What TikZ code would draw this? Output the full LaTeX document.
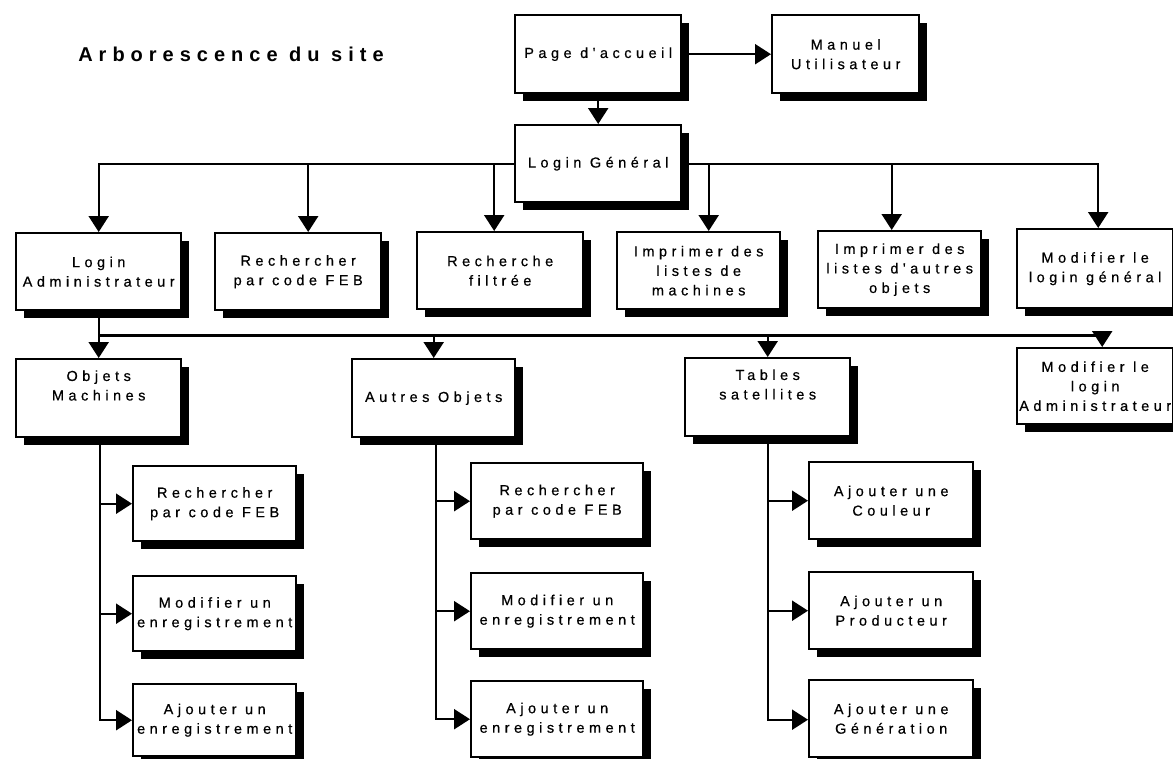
\documentclass[tikz,border=0pt]{standalone}
\usepackage{fontspec}
\setmainfont{Liberation Sans}
\newfontfamily\boxfont{Liberation Sans}[LetterSpace=31,Ligatures=TeXOff,FakeBold=0.5]
\newfontfamily\titlefont{Liberation Sans}[LetterSpace=30]
\usetikzlibrary{arrows.meta,shadows,calc}
\tikzset{
  box/.style={draw=black, line width=2.4pt, fill=white, anchor=north west,
    align=center, inner sep=0pt,
    font=\boxfont\fontsize{14.5}{19.5}\selectfont,
    drop shadow={shadow xshift=7.5pt, shadow yshift=-7.5pt, fill=black, opacity=1}},
  conn/.style={line width=2.2pt, -{Triangle[width=20pt,length=16pt]}},
  wire/.style={line width=2.2pt}
}
\begin{document}
\begin{tikzpicture}[x=1pt,y=1pt]
\useasboundingbox (0,0) rectangle (1173,-758);
\clip (0,0) rectangle (1173,-758);
\fill[white] (0,0) rectangle (1173,-758);

\node (title) at (231,-54) {\titlefont\bfseries\fontsize{20}{24}\selectfont Arborescence du site};

% row 0
\node[box, minimum width=166pt, minimum height=78pt] (acc) at (514,-14) {Page d'accueil};
\node[box, minimum width=147pt, minimum height=78pt] (man) at (771,-14) {Manuel\\Utilisateur};
\node[box, minimum width=166pt, minimum height=77pt] (lg) at (514,-124) {Login Général};

% row 2
\node[box, minimum width=165pt, minimum height=77pt] (la) at (15,-232) {Login\\Administrateur};
\node[box, minimum width=166pt, minimum height=77pt] (rpc) at (214,-232) {Rechercher\\par code FEB};
\node[box, minimum width=166pt, minimum height=77pt] (rf) at (416,-231) {Recherche\\filtrée};
\node[box, minimum width=163pt, minimum height=77pt] (imm) at (616,-231) {Imprimer des\\listes de\\machines};
\node[box, minimum width=163pt, minimum height=77pt] (imo) at (817,-230) {Imprimer des\\listes d'autres\\objets};
\node[box, minimum width=156pt, minimum height=79pt] (mlg) at (1016,-228) {Modifier le\\login général};

% row 3
\node[box, minimum width=165pt, minimum height=78pt] (om) at (15,-358) {Objets\\Machines\\[6pt]};
\node[box, minimum width=163pt, minimum height=78pt] (ao) at (351,-358) {Autres Objets};
\node[box, minimum width=165pt, minimum height=78pt] (ts) at (684,-357) {Tables\\satellites\\[6pt]};
\node[box, minimum width=156pt, minimum height=76pt] (mla) at (1016,-347) {Modifier le\\login\\Administrateur};

% column 1
\node[box, minimum width=163pt, minimum height=75pt] (c1a) at (132,-465) {Rechercher\\par code FEB};
\node[box, minimum width=163pt, minimum height=75pt] (c1b) at (132,-575) {Modifier un\\enregistrement};
\node[box, minimum width=163pt, minimum height=72pt] (c1c) at (132,-683) {Ajouter un\\enregistrement};
% column 2
\node[box, minimum width=172pt, minimum height=76pt] (c2a) at (470,-462) {Rechercher\\par code FEB};
\node[box, minimum width=172pt, minimum height=76pt] (c2b) at (470,-572) {Modifier un\\enregistrement};
\node[box, minimum width=172pt, minimum height=76pt] (c2c) at (470,-680) {Ajouter un\\enregistrement};
% column 3
\node[box, minimum width=164pt, minimum height=77pt] (c3a) at (808,-461) {Ajouter une\\Couleur};
\node[box, minimum width=164pt, minimum height=77pt] (c3b) at (808,-571) {Ajouter un\\Producteur};
\node[box, minimum width=164pt, minimum height=77pt] (c3c) at (808,-679) {Ajouter une\\Génération};

% connectors top
\draw[conn] (acc.east) -- (man.west);
\draw[conn] (acc.south) -- (lg.north);

\draw[conn] (lg.west) -| (la.north);
\draw[conn] (lg.west) -| ([xshift=10pt]rpc.north);
\draw[conn] (lg.west) -| ([xshift=-6pt]rf.north);
\draw[conn] (lg.east) -| ([xshift=10pt]imm.north);
\draw[conn] (lg.east) -| ([xshift=-8pt]imo.north);
\draw[conn] (lg.east) -| ([xshift=3pt]mlg.north);

% bus 2
\coordinate (bus) at ($(la.south)+(0,-24)$);
\draw[conn] (la.south) -- (om.north);
\draw[conn] (bus) -| (ao.north);
\draw[conn] (bus) -| (ts.north);
\draw[conn] (bus) -| ([xshift=7pt]mla.north);

% sub columns
\draw[conn] ([xshift=1pt]om.south) |- (c1a.west);
\draw[conn] ([xshift=1pt]om.south) |- (c1b.west);
\draw[conn] ([xshift=1pt]om.south) |- (c1c.west);
\draw[conn] ([xshift=2pt]ao.south) |- (c2a.west);
\draw[conn] ([xshift=2pt]ao.south) |- (c2b.west);
\draw[conn] ([xshift=2pt]ao.south) |- (c2c.west);
\draw[conn] (ts.south) |- (c3a.west);
\draw[conn] (ts.south) |- (c3b.west);
\draw[conn] (ts.south) |- ([yshift=-1pt]c3c.west);
\end{tikzpicture}
\end{document}
